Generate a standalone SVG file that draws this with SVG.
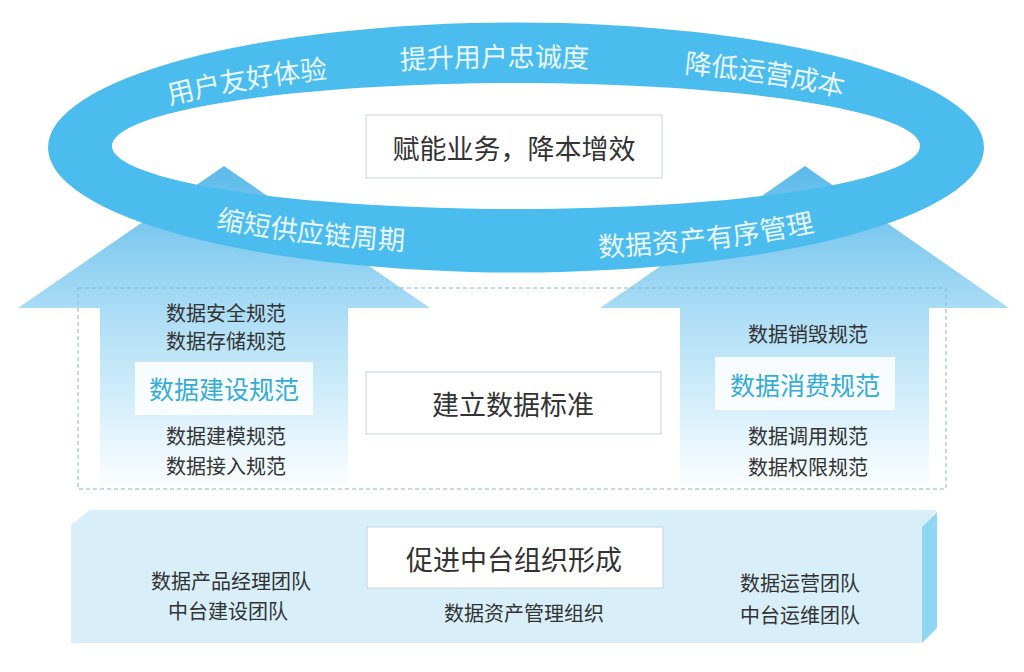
<svg xmlns="http://www.w3.org/2000/svg" width="1024" height="672" viewBox="0 0 1024 672">
<style>
text{font-family:"Noto Sans CJK SC","Noto Sans",sans-serif}
.ring-t{font-size:27px;fill:#e8f6fd;dominant-baseline:central}
.box{fill:#ffffff;stroke:#c3d4df;stroke-width:1}
.main{font-size:27px;fill:#333333;text-anchor:middle;dominant-baseline:central}
.small{font-size:20px;fill:#333333;text-anchor:middle;dominant-baseline:central}
.blue{font-size:25px;fill:#35acd6;text-anchor:middle;dominant-baseline:central}
.lbl{fill:#ffffff;fill-opacity:0.85}
</style>
<defs>
<linearGradient id="ag" gradientUnits="userSpaceOnUse" x1="0" y1="165" x2="0" y2="495">
<stop offset="0" stop-color="#5ab9ea"/>
<stop offset="0.43" stop-color="#a9dcf5"/>
<stop offset="0.75" stop-color="#d9f0fb"/>
<stop offset="1" stop-color="#ffffff"/>
</linearGradient>
<path id="p1" d="M167 93.3 A436 88.7 0 0 1 591.7 59.1"/>
<path id="p2" d="M400 57.8 A436 92 0 0 1 796.3 76"/>
<path id="p3" d="M685 60.8 A436 93 0 0 1 950.3 138.4"/>
<path id="p4" d="M218 215.8 A436 95 0 0 0 893.6 194"/>
<path id="p5" d="M598 244.7 A436 100 0 0 0 945.5 129.1"/>
</defs>
<rect width="1024" height="672" fill="#ffffff"/>

<g id="arrow-left">
<polygon points="224,166 430,308 348,308 348,492 100,492 100,308 18,308" fill="url(#ag)"/>
</g>
<g id="arrow-right">
<polygon points="805,166 1009,308 929,308 929,492 680,492 680,308 600,308" fill="url(#ag)"/>
</g>

<g id="ring">
<path d="M48 147.5 A468 125 0 1 0 984 147.5 A468 125 0 1 0 48 147.5 Z M112 146 A404 63 0 1 0 920 146 A404 63 0 1 0 112 146 Z" fill="#4bbcee" fill-rule="evenodd"/>
<text class="ring-t"><textPath href="#p1">用户友好体验</textPath></text>
<text class="ring-t"><textPath href="#p2">提升用户忠诚度</textPath></text>
<text class="ring-t"><textPath href="#p3">降低运营成本</textPath></text>
<text class="ring-t"><textPath href="#p4">缩短供应链周期</textPath></text>
<text class="ring-t"><textPath href="#p5">数据资产有序管理</textPath></text>
</g>

<g id="goal">
<rect class="box" x="366" y="115" width="296" height="63"/>
<text class="main" x="514" y="147">赋能业务，降本增效</text>
</g>

<g id="standards">
<rect x="78" y="288" width="868" height="201" fill="none" stroke="#8ab4cf" stroke-width="1" stroke-dasharray="4 3"/>
<rect class="box" x="366" y="372" width="295" height="62"/>
<text class="main" x="513" y="403">建立数据标准</text>
</g>

<g id="build-spec">
<text class="small" x="226" y="312">数据安全规范</text>
<text class="small" x="226" y="340">数据存储规范</text>
<rect class="lbl" x="135" y="362" width="178" height="53"/>
<text class="blue" x="224" y="388">数据建设规范</text>
<text class="small" x="226" y="435">数据建模规范</text>
<text class="small" x="226" y="465">数据接入规范</text>
</g>

<g id="consume-spec">
<text class="small" x="808" y="333">数据销毁规范</text>
<rect class="lbl" x="715" y="357" width="180" height="53"/>
<text class="blue" x="805" y="384">数据消费规范</text>
<text class="small" x="808" y="435">数据调用规范</text>
<text class="small" x="808" y="466">数据权限规范</text>
</g>

<g id="organization">
<polygon points="71,525 90,510 937,510 922,527 922,643 71,643" fill="#d8effa"/>
<polygon points="922,527 937,512 937,628 922,643" fill="#8fd5f4"/>
<rect class="box" x="367" y="527" width="296" height="61"/>
<text class="main" x="514" y="558">促进中台组织形成</text>
<text class="small" x="231" y="580">数据产品经理团队</text>
<text class="small" x="228" y="610">中台建设团队</text>
<text class="small" x="524" y="612">数据资产管理组织</text>
<text class="small" x="800" y="582">数据运营团队</text>
<text class="small" x="800" y="614">中台运维团队</text>
</g>
</svg>
